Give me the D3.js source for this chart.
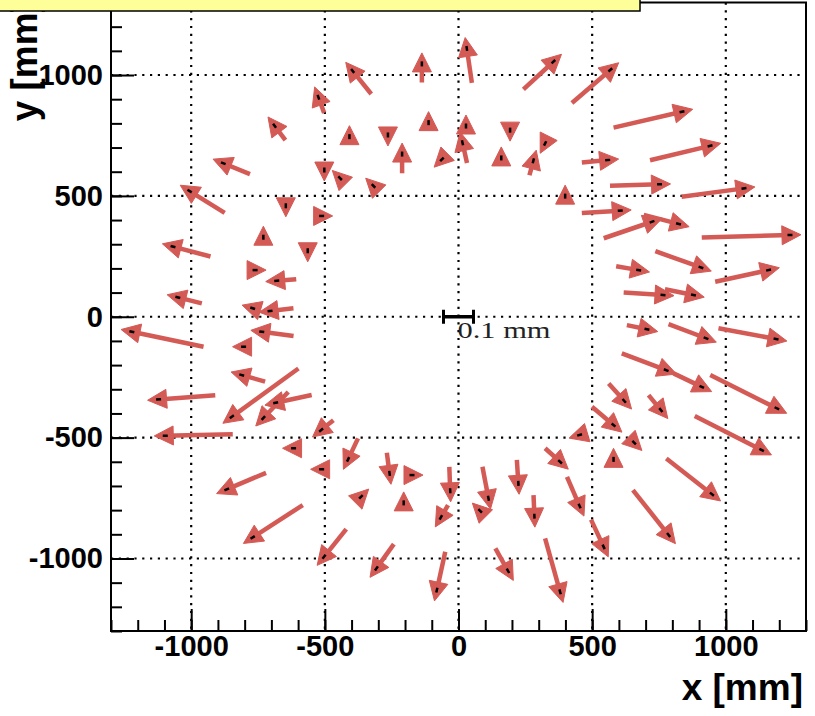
<!DOCTYPE html>
<html>
<head>
<meta charset="utf-8">
<script src="https://cdn.jsdelivr.net/npm/d3@7"></script>
<style>
  body { margin: 0; background: #fff; }
  text { font-family: "Liberation Sans", Arial, sans-serif; font-weight: bold; }
</style>
</head>
<body>
<script>

// station positions (mm) and measured displacements (mm)
var stationX = [-524, -688, -880, -1006, -646, -502, -443, -396, -137, 31, 355, 568, -408, -264, -112, -211, -62, 28, 15, 193, 160, 280, 324, 399, -318,
    836, 941, 558, 752, 1068, 605, 724, 823, 1240, 907, 674, 1160, 765, 879, 705, 926, 1188, 777, 910, 1191, 620, 757, 1134, 580, 657, 580, 453, 948, 786, 543, 453,
    -413, -258, -174, -31, -365, -205, -66, 112, 81, 224, 284, 380, -307, -81, 185, 380,
    -1097, -617, -512, -514, -867, -770, -503,
    -512, -1068, -730, -564, -761, -680, -1050, -770, -705, -1222, -736, -804, -811, -1122, -848, -730, -684];
var stationY = [908, 790, 635, 520, 459, 607, 573, 1017, 1046, 1110, 1055, 1021, 745, 752, 803, 673, 651, 789, 720, 772, 657, 645, 717, 499, 541,
    848, 707, 648, 548, 531, 439, 393, 384, 338, 204, 193, 193, 90, 90, -52, -89, -92, -221, -290, -379, -348, -386, -551, -448, -521, -590, -489, -734, -903, -952, -783,
    -590, -648, -655, -720, -745, -770, -830, -751, -803, -689, -825, -600, -1041, -1131, -1051, -1138,
    -492, -544, -631, -469, -714, -913, -993,
    417, 290, 329, 273, 193, 149, 80, 35, 24, -62, -62, -124, -241, -342, -414, -419, -356];
var dispX = [-0.019, -0.036, -0.089, -0.117, 0, 0, -0.007, -0.062, 0, -0.017, 0.100, 0.128, 0, 0, 0, 0, -0.007, 0, -0.015, 0, 0, 0.013, -0.005, 0, -0.007,
    0.228, 0.200, 0.086, 0.165, 0.208, 0.128, 0.161, 0.116, 0.294, 0.152, 0.075, 0.178, 0.131, 0.095, 0.067, 0.125, 0.192, 0.148, 0.094, 0.222, 0.052, 0.041, 0.223, 0.072, 0.007, 0, -0.010, 0.152, 0.119, 0.042, 0.042,
    -0.033, 0.009, 0.010, 0.003, 0.007, 0, -0.024, 0.020, -0.007, 0.005, 0.003, 0.050, -0.058, -0.028, 0.042, 0.050,
    -0.225, -0.010, -0.010, -0.041, -0.131, -0.167, -0.074,
    0.010, -0.125, 0, 0, 0.010, -0.065, -0.080, -0.010, -0.078, -0.239, -0.106, -0.010, -0.078, -0.189, -0.222, -0.083, -0.120];
var dispY = [0.052, 0.048, 0.036, 0.073, -0.010, -0.010, 0.007, 0.077, 0.062, 0.115, 0.092, 0.110, 0.010, -0.010, 0.010, 0.064, -0.007, 0.010, 0.068, -0.010, 0.010, 0.048, -0.010, 0.010, 0.007,
    0.053, 0.048, 0.008, 0.005, 0.028, 0.008, 0.055, -0.030, 0.008, -0.054, -0.013, 0.039, -0.008, -0.019, -0.014, -0.047, -0.036, -0.056, -0.045, -0.111, -0.058, -0.050, -0.113, -0.061, -0.007, 0.010, -0.003, -0.119, -0.150, -0.091, -0.097,
    -0.070, -0.069, 0, -0.080, 0.007, 0.010, -0.041, -0.105, 0.007, -0.078, -0.070, -0.045, -0.081, -0.128, -0.075, -0.178,
    -0.005, 0, 0, -0.033, -0.055, -0.108, -0.092,
    0, 0.033, 0.010, -0.010, 0, -0.005, 0.020, 0.003, -0.009, 0.050, 0.014, 0, 0.022, -0.014, -0.161, -0.087, -0.026];

var majorTicks = [-1000, -500, 0, 500, 1000];
var majorLabels = ["-1000", "-500", "0", "500", "1000"];
var scaleLength = 0.1; // mm
var scaleLabel = "0.1 mm";

var width = 815, height = 716;
var arrowColor = "#d45a55";

var svg = d3.select("body").append("svg")
    .attr("width", width)
    .attr("height", height);

var x = d3.scaleLinear().domain([-1300, 1300]).range([111, 806]);
var y = d3.scaleLinear().domain([-1300, 1300]).range([631, 2.5]);
// displacement in mm -> pixels
var s = d3.scaleLinear().domain([0, scaleLength]).range([0, 30]);

// grid
var grid = svg.append("g")
    .attr("stroke", "#000")
    .attr("stroke-width", 2.2)
    .attr("stroke-dasharray", "2.2,5.6");

grid.selectAll(".gx").data(majorTicks).enter().append("line")
    .attr("x1", function(d) { return x(d); })
    .attr("x2", function(d) { return x(d); })
    .attr("y1", y(1300))
    .attr("y2", y(-1300));

grid.selectAll(".gy").data(majorTicks).enter().append("line")
    .attr("y1", function(d) { return y(d); })
    .attr("y2", function(d) { return y(d); })
    .attr("x1", x(-1300))
    .attr("x2", x(1300));

// axes (ticks inside, ROOT style)
var minorTicks = d3.range(-1300, 1301, 100);
var fmt = function(d) { return majorLabels[majorTicks.indexOf(d)]; };

var xMinor = d3.axisBottom(x).tickValues(minorTicks).tickSize(-11).tickSizeOuter(0).tickFormat("");
var xMajor = d3.axisBottom(x).tickValues(majorTicks).tickSize(-22).tickSizeOuter(0).tickPadding(4).tickFormat(fmt);
var yMinor = d3.axisLeft(y).tickValues(minorTicks).tickSize(-11).tickSizeOuter(0).tickFormat("");
var yMajor = d3.axisLeft(y).tickValues(majorTicks).tickSize(-23).tickSizeOuter(0).tickPadding(8).tickFormat(fmt);

[xMinor, xMajor].forEach(function(a) {
    svg.append("g")
        .attr("class", "x axis")
        .attr("transform", "translate(0," + y(-1300) + ")")
        .call(a);
});
[yMinor, yMajor].forEach(function(a) {
    svg.append("g")
        .attr("class", "y axis")
        .attr("transform", "translate(" + x(-1300) + ",0)")
        .call(a);
});

svg.selectAll(".axis .domain").remove();
svg.selectAll(".axis line").attr("stroke", "#000").attr("stroke-width", 2);
svg.selectAll(".axis text")
    .attr("fill", "#000")
    .style("font-size", "29px")
    .style("font-family", "'Liberation Sans', Arial, sans-serif")
    .style("font-weight", "bold");

// arrows
var arrows = svg.append("g");

stationX.forEach(function(sx, i) {
    var px = x(sx), py = y(stationY[i]);
    var dx = s(dispX[i]), dy = -s(dispY[i]);
    var len = Math.sqrt(dx * dx + dy * dy);
    var ux = dx / len, uy = dy / len;
    var nx = -uy, ny = ux;
    var tipX = px + ux * 11, tipY = py + uy * 11;
    var bX = px - ux * 8, bY = py - uy * 8;

    arrows.append("line")
        .attr("x1", px - dx)
        .attr("y1", py - dy)
        .attr("x2", px)
        .attr("y2", py)
        .attr("stroke", arrowColor)
        .attr("stroke-width", 4.5);

    arrows.append("path")
        .attr("d", "M" + tipX + "," + tipY +
            "L" + (bX + nx * 9.5) + "," + (bY + ny * 9.5) +
            "L" + (bX - nx * 9.5) + "," + (bY - ny * 9.5) + "Z")
        .attr("fill", arrowColor)
        .attr("stroke", arrowColor)
        .attr("stroke-width", 1);

    arrows.append("line")
        .attr("x1", px - ux * 2.5)
        .attr("y1", py - uy * 2.5)
        .attr("x2", px + ux * 2.5)
        .attr("y2", py + uy * 2.5)
        .attr("stroke", "#000")
        .attr("stroke-width", 2.5);
});

// scale bar
var sbY = y(0);
var sbX0 = x(0) - s(scaleLength) / 2, sbX1 = x(0) + s(scaleLength) / 2;
var sb = svg.append("g").attr("stroke", "#000");
sb.append("line").attr("x1", sbX0).attr("x2", sbX1).attr("y1", sbY).attr("y2", sbY).attr("stroke-width", 3.5);
sb.append("line").attr("x1", sbX0).attr("x2", sbX0).attr("y1", sbY - 7).attr("y2", sbY + 7).attr("stroke-width", 3);
sb.append("line").attr("x1", sbX1).attr("x2", sbX1).attr("y1", sbY - 7).attr("y2", sbY + 7).attr("stroke-width", 3);

svg.append("text")
    .attr("x", x(0) - 1)
    .attr("y", sbY + 21)
    .attr("textLength", 93)
    .attr("lengthAdjust", "spacingAndGlyphs")
    .style("font-family", "'Liberation Serif', 'Times New Roman', serif")
    .style("font-weight", "normal")
    .style("font-size", "24px")
    .attr("fill", "#222")
    .text(scaleLabel);

// frame
svg.append("rect")
    .attr("x", x(-1300))
    .attr("y", y(1300))
    .attr("width", x(1300) - x(-1300))
    .attr("height", y(-1300) - y(1300))
    .attr("fill", "none")
    .attr("stroke", "#000")
    .attr("stroke-width", 2);

// axis titles
svg.append("text")
    .attr("x", 803)
    .attr("y", 700)
    .attr("text-anchor", "end")
    .style("font-size", "37px")
    .text("x [mm]");

svg.append("text")
    .attr("transform", "translate(37,0) rotate(-90)")
    .attr("text-anchor", "end")
    .style("font-size", "37px")
    .text("y [mm]");

// title box (text cut off)
svg.append("rect")
    .attr("x", -1)
    .attr("y", -1)
    .attr("width", 641)
    .attr("height", 12)
    .attr("fill", "#ffff99")
    .attr("stroke", "#000")
    .attr("stroke-width", 1.5);

</script>
</body>
</html>
